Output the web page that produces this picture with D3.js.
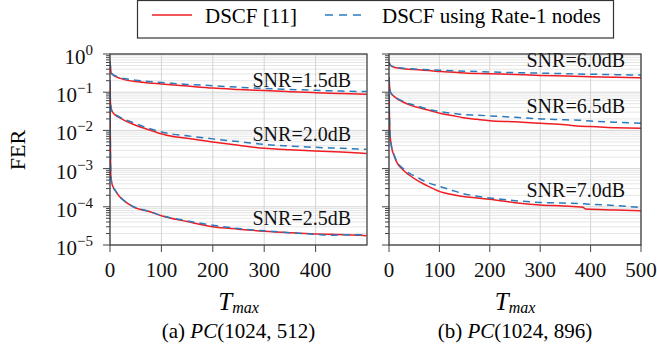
<!DOCTYPE html>
<html>
<head>
<meta charset="utf-8">
<script src="https://cdn.jsdelivr.net/npm/d3@7"></script>
<style>
  body { margin: 0; background: #fff; }
  svg text { font-family: "Liberation Serif", Tinos, "Times New Roman", "DejaVu Serif", serif; }
  .grid-major { stroke: #d4d4d4; stroke-width: 1; }
  .grid-minor { stroke: #e6e6e6; stroke-width: 1; }
  .frame { fill: none; stroke: #333; stroke-width: 1.2; }
  .tick { stroke: #444; stroke-width: 1; }
  .tlabel { font-size: 21px; fill: #111; }
  .snr { font-size: 20px; fill: #111; }
</style>
</head>
<body>
<script>
// FER vs T_max for DSCF and DSCF with Rate-1 nodes, two codes side by side.
const xTicksA = [0, 100, 200, 300, 400];
const xTicksB = [0, 100, 200, 300, 400, 500];
const yDecades = [0, -1, -2, -3, -4, -5];

// PC(1024,512)
const t15 = [0, 1, 2, 5, 10, 20, 30, 50, 75, 100, 150, 200, 250, 300, 350, 400, 450, 499];
const red15 = [0.65, 0.45, 0.33, 0.29, 0.26, 0.23, 0.21, 0.19, 0.175, 0.165, 0.145, 0.128, 0.118, 0.11, 0.103, 0.097, 0.092, 0.088];
const blue15 = [0.65, 0.45, 0.33, 0.295, 0.27, 0.24, 0.225, 0.205, 0.19, 0.18, 0.16, 0.148, 0.135, 0.125, 0.118, 0.112, 0.107, 0.104];

const t20 = [0, 0.5, 1, 3, 8, 20, 45, 70, 110, 150, 200, 250, 300, 350, 400, 450, 499];
const red20 = [0.2, 0.08, 0.05, 0.034, 0.027, 0.021, 0.0145, 0.011, 0.0075, 0.0062, 0.005, 0.0041, 0.0034, 0.0031, 0.0029, 0.0027, 0.0025];
const blue20 = [0.2, 0.08, 0.05, 0.034, 0.028, 0.022, 0.016, 0.012, 0.0085, 0.0072, 0.006, 0.0051, 0.0043, 0.0039, 0.0036, 0.0034, 0.0032];

const t25 = [0, 0.5, 1, 1.5, 3, 6, 10, 18, 26, 45, 78, 100, 150, 200, 250, 300, 350, 400, 430, 460, 499];
const red25 = [0.1, 0.01, 0.002, 7e-4, 4.5e-4, 3.3e-4, 2.7e-4, 1.9e-4, 1.5e-4, 1.0e-4, 7.4e-5, 5.8e-5, 4.1e-5, 3.0e-5, 2.6e-5, 2.3e-5, 2.1e-5, 1.95e-5, 1.9e-5, 1.85e-5, 1.75e-5];
const blue25 = [0.1, 0.01, 0.002, 7e-4, 4.5e-4, 3.3e-4, 2.7e-4, 1.9e-4, 1.5e-4, 1.02e-4, 7.5e-5, 5.9e-5, 4.3e-5, 3.3e-5, 2.7e-5, 2.35e-5, 2.1e-5, 1.9e-5, 1.8e-5, 1.85e-5, 1.85e-5];

// PC(1024,896)
const t60 = [0, 2, 5, 10, 25, 50, 100, 150, 200, 250, 300, 350, 400, 450, 500];
const red60 = [0.62, 0.52, 0.48, 0.45, 0.42, 0.39, 0.35, 0.32, 0.305, 0.29, 0.275, 0.265, 0.255, 0.245, 0.238];
const blue60 = [0.62, 0.52, 0.49, 0.46, 0.43, 0.405, 0.375, 0.355, 0.34, 0.325, 0.315, 0.305, 0.295, 0.288, 0.28];

const t65 = [0, 1, 2, 5, 8, 15, 25, 42, 60, 81, 101, 125, 147, 175, 200, 250, 300, 350, 380, 400, 450, 500];
const red65 = [0.25, 0.15, 0.11, 0.09, 0.082, 0.069, 0.058, 0.046, 0.039, 0.033, 0.028, 0.0245, 0.0215, 0.0195, 0.018, 0.0168, 0.0153, 0.014, 0.0128, 0.0126, 0.0118, 0.0113];
const blue65 = [0.25, 0.15, 0.11, 0.09, 0.083, 0.07, 0.06, 0.049, 0.042, 0.035, 0.031, 0.028, 0.026, 0.025, 0.024, 0.022, 0.02, 0.019, 0.0183, 0.0176, 0.0163, 0.0153];

const t70 = [0, 1, 2, 5, 10, 15, 28, 40, 55, 75, 101, 125, 147, 175, 200, 250, 300, 346, 385, 390, 450, 500];
const red70 = [0.09, 0.02, 0.008, 0.0037, 0.0022, 0.0015, 9.2e-4, 6.8e-4, 5e-4, 3.6e-4, 2.5e-4, 2.1e-4, 1.85e-4, 1.7e-4, 1.58e-4, 1.28e-4, 1.12e-4, 1.05e-4, 9.7e-5, 8.7e-5, 8.3e-5, 7.9e-5];
const blue70 = [0.09, 0.02, 0.008, 0.0038, 0.0023, 0.0016, 0.001, 7.6e-4, 6.0e-4, 4.4e-4, 3.4e-4, 2.7e-4, 2.2e-4, 1.9e-4, 1.7e-4, 1.45e-4, 1.3e-4, 1.25e-4, 1.2e-4, 1.19e-4, 1.08e-4, 9.6e-5];

const RED = "#ee1d23", BLUE = "#2b7bbd";

const panels = [
  { x0: 110, x1: 367, ticks: xTicksA, yLabels: true, caption: ["(a) ", "PC", "(1024, 512)"],
    curves: [[t15, red15, blue15, "SNR=1.5dB", 87], [t20, red20, blue20, "SNR=2.0dB", 141], [t25, red25, blue25, "SNR=2.5dB", 225]] },
  { x0: 389, x1: 641, ticks: xTicksB, yLabels: false, caption: ["(b) ", "PC", "(1024, 896)"],
    curves: [[t60, red60, blue60, "SNR=6.0dB", 67], [t65, red65, blue65, "SNR=6.5dB", 113], [t70, red70, blue70, "SNR=7.0dB", 197]] },
];

const W = 657, H = 351, plotTop = 54, plotBottom = 245;
const svg = d3.select("body").append("svg").attr("width", W).attr("height", H)
  .attr("font-family", "'Liberation Serif', Tinos, 'DejaVu Serif', serif");
const y = d3.scaleLog([1e-5, 1], [plotBottom, plotTop]);

panels.forEach((p, pi) => {
  const x = d3.scaleLinear([0, 500], [p.x0, p.x1]);
  const g = svg.append("g");

  // minor + major horizontal grid
  const minor = [];
  for (let e = -5; e < 0; e++) for (let k = 2; k <= 9; k++) minor.push(k * Math.pow(10, e));
  g.selectAll(".gm").data(minor).join("line").attr("class", "grid-minor")
    .attr("x1", p.x0).attr("x2", p.x1).attr("y1", (d) => y(d)).attr("y2", (d) => y(d));
  g.selectAll(".gM").data(yDecades).join("line").attr("class", "grid-major")
    .attr("x1", p.x0).attr("x2", p.x1).attr("y1", (d) => y(Math.pow(10, d))).attr("y2", (d) => y(Math.pow(10, d)));
  g.selectAll(".gv").data(p.ticks).join("line").attr("class", "grid-major")
    .attr("x1", (d) => x(d)).attr("x2", (d) => x(d)).attr("y1", plotTop).attr("y2", plotBottom);

  const clipId = "clip" + pi;
  svg.append("clipPath").attr("id", clipId).append("rect")
    .attr("x", p.x0).attr("y", plotTop).attr("width", p.x1 - p.x0).attr("height", plotBottom - plotTop);

  const line = d3.line().x((d) => x(d[0])).y((d) => y(d[1])).curve(d3.curveMonotoneX);
  p.curves.forEach(([ts, rs, bs, label, ly]) => {
    g.append("path").datum(ts.map((t, i) => [t, rs[i]])).attr("clip-path", `url(#${clipId})`)
      .attr("fill", "none").attr("stroke", RED).attr("stroke-width", 1.5).attr("d", line);
    g.append("path").datum(ts.map((t, i) => [t, bs[i]])).attr("clip-path", `url(#${clipId})`)
      .attr("fill", "none").attr("stroke", BLUE).attr("stroke-width", 1.5).attr("stroke-dasharray", "7,5").attr("d", line);
    g.append("text").attr("class", "snr").attr("text-anchor", "end")
      .attr("x", p.x1 - 16).attr("y", ly).text(label);
  });

  g.append("rect").attr("class", "frame").attr("x", p.x0).attr("y", plotTop)
    .attr("width", p.x1 - p.x0).attr("height", plotBottom - plotTop);

  // ticks outside
  g.selectAll(".xt").data(p.ticks).join("line").attr("class", "tick")
    .attr("x1", (d) => x(d)).attr("x2", (d) => x(d)).attr("y1", plotBottom).attr("y2", plotBottom + 7);
  g.selectAll(".xl").data(p.ticks).join("text").attr("class", "tlabel").attr("text-anchor", "middle")
    .attr("x", (d) => x(d)).attr("y", 277).text((d) => d);
  g.selectAll(".ytM").data(yDecades).join("line").attr("class", "tick")
    .attr("x1", p.x0 - 7).attr("x2", p.x0).attr("y1", (d) => y(Math.pow(10, d))).attr("y2", (d) => y(Math.pow(10, d)));
  g.selectAll(".ytm").data(minor).join("line").attr("class", "tick")
    .attr("x1", p.x0 - 4).attr("x2", p.x0).attr("y1", (d) => y(d)).attr("y2", (d) => y(d));

  if (p.yLabels) {
    const yl = g.selectAll(".yl").data(yDecades).join("text").attr("class", "tlabel").attr("text-anchor", "end")
      .attr("x", p.x0 - 17).attr("y", (d) => y(Math.pow(10, d)) + 10);
    yl.append("tspan").text("10");
    yl.append("tspan").attr("dy", -9).attr("font-size", 15).text((d) => d === 0 ? "0" : "\u2212" + (-d));
  }

  const cx = (p.x0 + p.x1) / 2;
  const xt = g.append("text").attr("text-anchor", "middle").attr("x", cx).attr("y", 310).attr("font-size", 25);
  xt.append("tspan").attr("font-style", "italic").text("T");
  xt.append("tspan").attr("font-style", "italic").attr("font-size", 16).attr("dy", 3).text("max");
  const cap = g.append("text").attr("text-anchor", "middle").attr("x", cx).attr("y", 338).attr("font-size", 21);
  cap.append("tspan").text(p.caption[0]);
  cap.append("tspan").attr("font-style", "italic").text(p.caption[1]);
  cap.append("tspan").text(p.caption[2]);
});

svg.append("text").attr("font-size", 22).attr("text-anchor", "middle")
  .attr("transform", "translate(25,150) rotate(-90)").text("FER");

// legend
const lg = svg.append("g");
lg.append("rect").attr("x", 137.5).attr("y", 0.5).attr("width", 476).attr("height", 37.5)
  .attr("fill", "#fff").attr("stroke", "#333").attr("stroke-width", 1.2);
lg.append("line").attr("x1", 152).attr("x2", 192).attr("y1", 15).attr("y2", 15).attr("stroke", RED).attr("stroke-width", 1.5);
lg.append("text").attr("x", 205).attr("y", 22.5).attr("font-size", 21).text("DSCF [11]");
lg.append("line").attr("x1", 325).attr("x2", 365).attr("y1", 15).attr("y2", 15).attr("stroke", BLUE)
  .attr("stroke-width", 1.5).attr("stroke-dasharray", "8,6");
lg.append("text").attr("x", 382).attr("y", 22.5).attr("font-size", 21).text("DSCF using Rate-1 nodes");
</script>
</body>
</html>
